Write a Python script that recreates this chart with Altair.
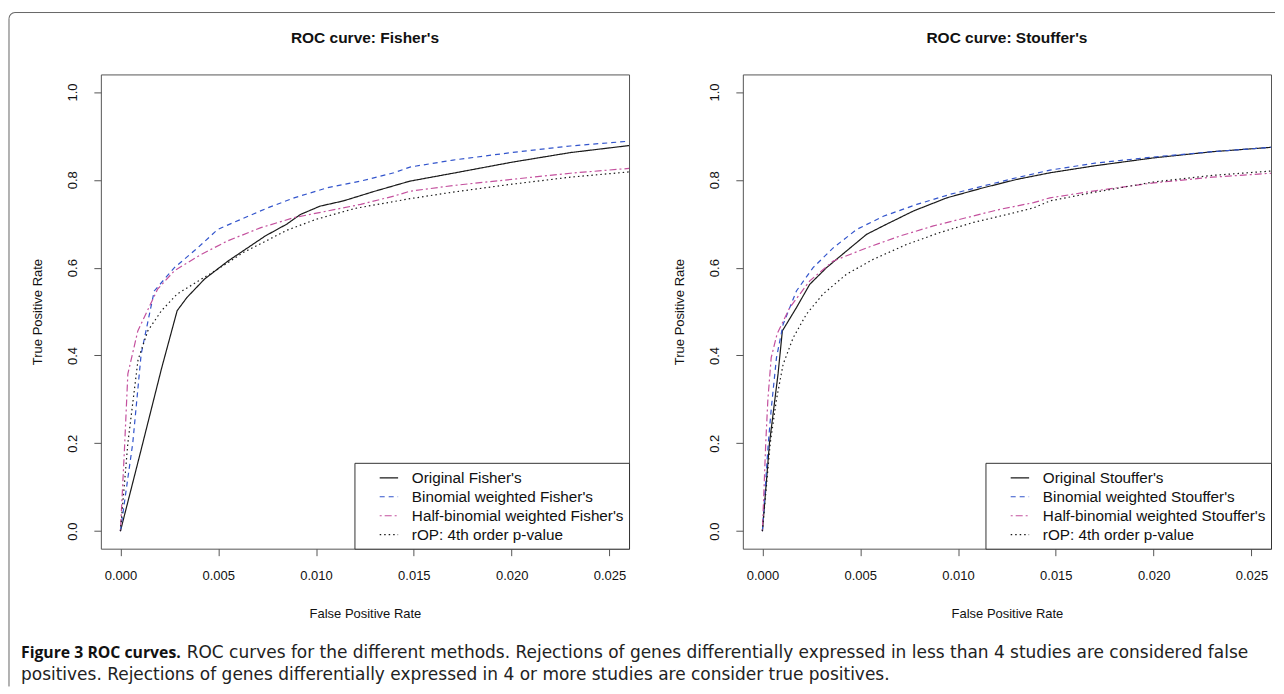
import altair as alt
import pandas as pd

# ---------------- data ----------------
methods_fisher = ["Original Fisher's", "Binomial weighted Fisher's",
                  "Half-binomial weighted Fisher's", "rOP: 4th order p-value"]
methods_stouffer = ["Original Stouffer's", "Binomial weighted Stouffer's",
                    "Half-binomial weighted Stouffer's", "rOP: 4th order p-value"]

line_colors = ["#1a1a1a", "#3355cc", "#c4519e", "#1a1a1a"]
dash_styles = [[1, 0], [5, 4], [2, 3, 7, 3], [1.5, 3]]

# Fisher's panel
f_orig_fpr = [0, 0.0010, 0.0021, 0.0029, 0.0034, 0.0043, 0.0055, 0.0065, 0.0074, 0.0085,
              0.0092, 0.0102, 0.0114, 0.0130, 0.0148, 0.0170, 0.0200, 0.0230, 0.0260]
f_orig_tpr = [0, 0.175, 0.370, 0.502, 0.532, 0.574, 0.615, 0.645, 0.672, 0.699,
              0.721, 0.740, 0.752, 0.774, 0.797, 0.815, 0.840, 0.862, 0.878]

f_bin_fpr = [0, 0.00063, 0.00106, 0.00173, 0.00276, 0.00395, 0.00497, 0.00616, 0.00752,
             0.00888, 0.01058, 0.01228, 0.01398, 0.0148, 0.0170, 0.0200, 0.0230, 0.0260]
f_bin_tpr = [0, 0.200, 0.403, 0.547, 0.600, 0.645, 0.687, 0.710, 0.736,
             0.759, 0.782, 0.797, 0.816, 0.829, 0.845, 0.862, 0.877, 0.888]

f_half_fpr = [0, 0.00020, 0.00038, 0.00089, 0.0019, 0.00276, 0.00412, 0.00548, 0.00718,
              0.00888, 0.01058, 0.01228, 0.01398, 0.0148, 0.0170, 0.0200, 0.0230, 0.0260]
f_half_tpr = [0, 0.180, 0.358, 0.456, 0.551, 0.593, 0.630, 0.661, 0.691,
              0.714, 0.729, 0.744, 0.763, 0.774, 0.787, 0.801, 0.815, 0.826]

f_rop_fpr = [0, 0.00038, 0.0009, 0.0014, 0.0021, 0.0029, 0.0040, 0.0051, 0.0063,
             0.0075, 0.0085, 0.0100, 0.0120, 0.0148, 0.0170, 0.0200, 0.0230, 0.0260]
f_rop_tpr = [0, 0.200, 0.390, 0.456, 0.502, 0.540, 0.570, 0.600, 0.635,
             0.662, 0.685, 0.710, 0.735, 0.757, 0.772, 0.790, 0.806, 0.818]

# Stouffer's panel
s_orig_fpr = [0, 0.00036, 0.0008, 0.00102, 0.00174, 0.00242, 0.00328, 0.0043, 0.00533,
              0.00635, 0.00772, 0.00943, 0.0113, 0.01301, 0.0147, 0.0170, 0.0200, 0.0230, 0.0260]
s_orig_tpr = [0, 0.200, 0.358, 0.456, 0.509, 0.562, 0.600, 0.638, 0.676,
              0.699, 0.729, 0.759, 0.782, 0.801, 0.816, 0.832, 0.850, 0.864, 0.874]

s_bin_fpr = [0, 0.00030, 0.00046, 0.00072, 0.00106, 0.00174, 0.00259, 0.00362, 0.00482,
             0.00618, 0.00789, 0.0096, 0.0113, 0.01301, 0.0147, 0.0170, 0.0200, 0.0230, 0.0260]
s_bin_tpr = [0, 0.200, 0.282, 0.395, 0.471, 0.547, 0.600, 0.645, 0.687,
             0.717, 0.744, 0.767, 0.786, 0.805, 0.822, 0.838, 0.852, 0.864, 0.874]

s_half_fpr = [0, 0.00017, 0.00028, 0.00045, 0.00075, 0.0014, 0.00242, 0.00362, 0.00533,
              0.00703, 0.00874, 0.01045, 0.01216, 0.01386, 0.0147, 0.0170, 0.0200, 0.0230, 0.0260]
s_half_tpr = [0, 0.200, 0.300, 0.395, 0.449, 0.509, 0.570, 0.615, 0.645,
              0.672, 0.695, 0.714, 0.733, 0.748, 0.759, 0.775, 0.793, 0.806, 0.815]

s_rop_fpr = [0, 0.00040, 0.00072, 0.00106, 0.00157, 0.00225, 0.0031, 0.0043, 0.00567,
             0.00738, 0.00908, 0.01079, 0.0125, 0.01386, 0.0147, 0.0170, 0.0200, 0.0230, 0.0260]
s_rop_tpr = [0, 0.200, 0.300, 0.380, 0.440, 0.494, 0.540, 0.585, 0.619,
             0.653, 0.680, 0.703, 0.721, 0.736, 0.752, 0.772, 0.795, 0.810, 0.820]

x_ticks = [0.0, 0.005, 0.010, 0.015, 0.020, 0.025]
y_ticks = [0.0, 0.2, 0.4, 0.6, 0.8, 1.0]

panel_titles = ["ROC curve: Fisher's", "ROC curve: Stouffer's"]
caption_bold = "Figure 3 ROC curves."
caption_rest1 = ("ROC curves for the different methods. Rejections of genes differentially "
                 "expressed in less than 4 studies are considered false")
caption_line2 = ("positives. Rejections of genes differentially expressed in 4 or more "
                 "studies are consider true positives.")


def build_df(methods, series):
    rows = []
    for m, (xs, ys) in zip(methods, series):
        for a, b in zip(xs, ys):
            rows.append({"method": m, "fpr": a, "tpr": b})
    return pd.DataFrame(rows)


df_f = build_df(methods_fisher, [(f_orig_fpr, f_orig_tpr), (f_bin_fpr, f_bin_tpr),
                                 (f_half_fpr, f_half_tpr), (f_rop_fpr, f_rop_tpr)])
df_s = build_df(methods_stouffer, [(s_orig_fpr, s_orig_tpr), (s_bin_fpr, s_bin_tpr),
                                   (s_half_fpr, s_half_tpr), (s_rop_fpr, s_rop_tpr)])

W, H = 529, 475
FONT = "Liberation Sans"
CAP_FONT = "DejaVu Sans"
CAP_BOLD_FONT = "Open Sans"
CAP_SIZE = 17.0
CAP_BOLD_SIZE = 15.8


def legend():
    return alt.Legend(title=None, orient="bottom-right", offset=0, strokeColor="#333",
                      fillColor="white", padding=5, cornerRadius=0, symbolType="stroke",
                      symbolSize=340, symbolStrokeWidth=1.2, symbolOffset=19.5,
                      labelFont=FONT, labelFontSize=15.3, labelColor="#111",
                      labelOffset=13, rowPadding=0, labelLimit=400)


def lines(df, methods):
    return alt.Chart(df).mark_line(strokeWidth=1.2).encode(
        x=alt.X("fpr:Q",
                scale=alt.Scale(domain=[-0.001, 0.026], nice=False, zero=False),
                axis=alt.Axis(values=x_ticks, format=".3f", title="False Positive Rate",
                              grid=False, domain=False, tickSize=7, tickColor="#555",
                              labelFont=FONT, labelFontSize=13, labelColor="#111",
                              labelPadding=14, labelFlush=False, labelOverlap=False,
                              titleFont=FONT, titleFontSize=13, titleFontWeight="normal",
                              titleColor="#111", titleX=W / 2, titleY=65,
                              titleBaseline="middle", titleAlign="center")),
        y=alt.Y("tpr:Q",
                scale=alt.Scale(domain=[-0.04, 1.04], nice=False, zero=False),
                axis=alt.Axis(values=y_ticks, format=".1f", title="True Positive Rate",
                              grid=False, domain=False, tickSize=7, tickColor="#555",
                              labelFont=FONT, labelFontSize=13, labelColor="#111",
                              labelAngle=270, labelAlign="center", labelBaseline="bottom",
                              labelPadding=14, labelFlush=False, labelOverlap=False,
                              titleFont=FONT, titleFontSize=13, titleFontWeight="normal",
                              titleColor="#111", titleAngle=270, titleX=-63, titleY=H / 2,
                              titleBaseline="middle", titleAlign="center")),
        color=alt.Color("method:N", scale=alt.Scale(domain=methods, range=line_colors),
                        legend=legend()),
        strokeDash=alt.StrokeDash("method:N", scale=alt.Scale(domain=methods, range=dash_styles),
                                  legend=legend()),
        order=alt.Order("fpr:Q"),
    )


one = pd.DataFrame({"k": [0]})


def title_mark(text):
    return alt.Chart(one).mark_text(text=text, align="center", baseline="middle", font=FONT,
                                    fontSize=15.5, fontWeight="bold", color="#111").encode(
        x=alt.value(W / 2), y=alt.value(-36))


# outer figure frame (left and top edges with a rounded corner)
frame_left = alt.Chart(one).mark_rule(stroke="#666", strokeWidth=1).encode(
    x=alt.value(-92), y=alt.value(-56), y2=alt.value(613))
frame_top = alt.Chart(one).mark_rule(stroke="#666", strokeWidth=1).encode(
    x=alt.value(-86), x2=alt.value(1176), y=alt.value(-62))
frame_corner = alt.Chart(one).mark_arc(innerRadius=5.5, outerRadius=6.5, theta=4.712389,
                                       theta2=6.283185, fill="#666").encode(
    x=alt.value(-86), y=alt.value(-56))

cap_a = alt.Chart(one).mark_text(text=caption_bold, align="left", baseline="middle",
                                 font=CAP_BOLD_FONT, fontSize=CAP_BOLD_SIZE, fontWeight="bold",
                                 color="#111").encode(x=alt.value(-80), y=alt.value(579))
cap_b = alt.Chart(one).mark_text(text=caption_rest1, align="left", baseline="middle",
                                 font=CAP_FONT, fontSize=CAP_SIZE, color="#222").encode(
    x=alt.value(86), y=alt.value(579))
cap_c = alt.Chart(one).mark_text(text=caption_line2, align="left", baseline="middle",
                                 font=CAP_FONT, fontSize=CAP_SIZE, color="#222").encode(
    x=alt.value(-80), y=alt.value(602))

left = alt.layer(lines(df_f, methods_fisher), title_mark(panel_titles[0]),
                 frame_left, frame_top, frame_corner, cap_a, cap_b, cap_c).properties(
    width=W, height=H)
right = alt.layer(lines(df_s, methods_stouffer), title_mark(panel_titles[1])).properties(
    width=W, height=H)

chart = alt.hconcat(left, right, spacing=114, bounds="flush").resolve_scale(
    color="independent", strokeDash="independent"
).configure(
    padding={"left": 0, "top": 3, "right": 0, "bottom": 0},
    autosize=alt.AutoSizeParams(type="pad"),
    background="white",
).configure_view(stroke="#555", strokeWidth=1)

chart.save("out.html", embed_options={"renderer": "svg", "actions": False})
